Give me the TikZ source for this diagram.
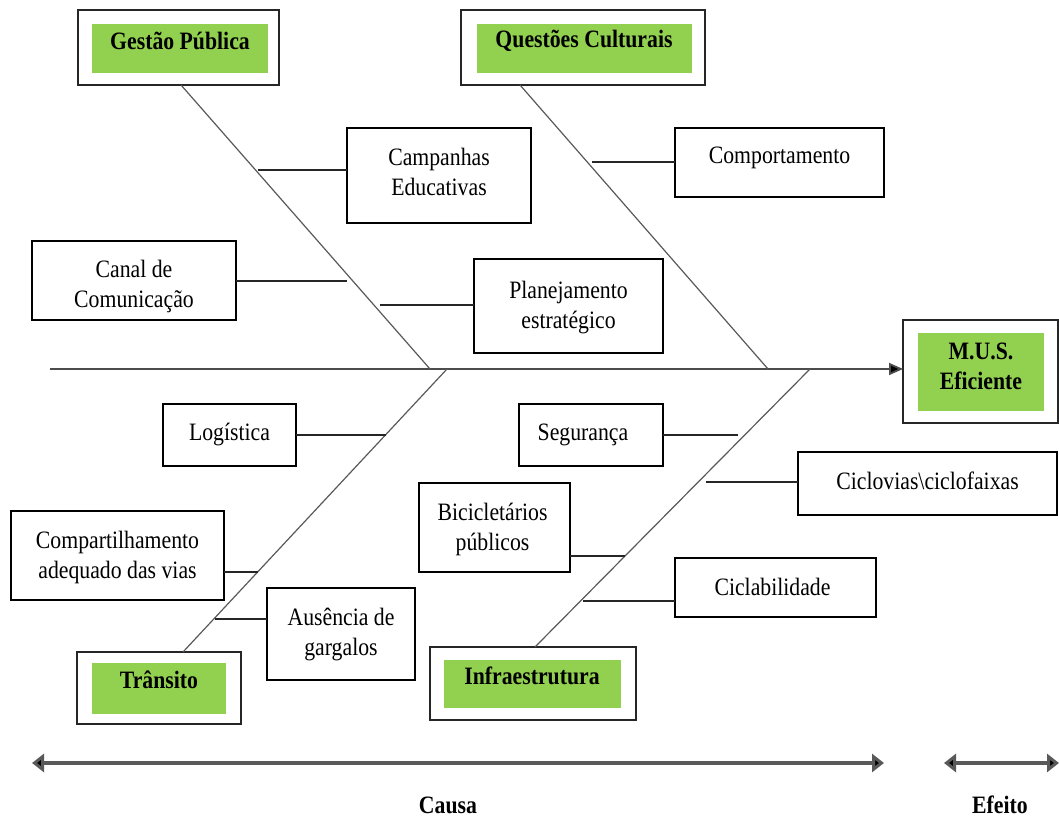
\documentclass[tikz,border=0pt]{standalone}
\usepackage{fontspec}
\setmainfont{Liberation Serif}[FakeStretch=0.87]
\usetikzlibrary{arrows.meta,calc}
\definecolor{lgreen}{HTML}{92D050}
\newcommand{\fsz}{\fontsize{12.5}{15}\selectfont}
\begin{document}
\begin{tikzpicture}[x=0.5pt,y=-0.5pt,
  box/.style={draw=black, line width=0.6pt, inner sep=0pt, outer sep=0pt},
  txt/.style={align=center, font=\fsz, inner sep=0pt},
  catouter/.style={draw=black!85, line width=0.8pt, inner sep=0pt, outer sep=0pt},
  catinner/.style={fill=lgreen, draw=none, inner sep=0pt, outer sep=0pt},
  cattext/.style={font=\fsz\bfseries, align=center, inner sep=0pt},
  bone/.style={draw=black!65, line width=0.6pt},
  branch/.style={draw=black!85, line width=0.6pt},
  spine/.style={draw=black!70, line width=0.9pt},
  scalearrow/.style={draw=black!65, line width=1.6pt, {Triangle[length=6pt,width=9pt,fill=black]}-{Triangle[length=6pt,width=9pt,fill=black]}},
  bottomlabel/.style={font=\fsz\bfseries, inner sep=0pt}
]
\useasboundingbox (0,0) rectangle (1059,817);

% category boxes
\node[catouter, minimum width=100.5pt, minimum height=37.5pt] (gpO) at (178.5,47.5) {};
\node[catinner, minimum width=88pt, minimum height=24.5pt] (gpI) at (180,48.5) {};
\node[cattext] (gpT) at (180,41) {Gestão Pública};

\node[catouter, minimum width=122pt, minimum height=37.5pt] (qcO) at (583,47.5) {};
\node[catinner, minimum width=107.5pt, minimum height=24.5pt] (qcI) at (584.5,48.5) {};
\node[cattext] (qcT) at (584,41) {Questões Culturais};

\node[catouter, minimum width=77.5pt, minimum height=51.5pt] (musO) at (980.5,371.5) {};
\node[catinner, minimum width=63pt, minimum height=39pt] (musI) at (981,372) {};
\node[cattext] (musT) at (981,366) {M.U.S.\\Eficiente};

\node[catouter, minimum width=82pt, minimum height=36pt] (trO) at (159,688) {};
\node[catinner, minimum width=67pt, minimum height=25.5pt] (trI) at (159,688.5) {};
\node[cattext] (trT) at (159,680) {Trânsito};

\node[catouter, minimum width=103pt, minimum height=36.5pt] (inO) at (533,683.5) {};
\node[catinner, minimum width=88.5pt, minimum height=24pt] (inI) at (532.5,684) {};
\node[cattext] (inT) at (532,676) {Infraestrutura};

% cause boxes
\node[box, minimum width=92pt, minimum height=47.5pt] (camp) at (439,175.5) {};
\node[txt] (campT) at ($(camp.center)+(0,-4)$) {Campanhas\\Educativas};
\node[box, minimum width=104.5pt, minimum height=34.5pt] (comp) at (779.5,162.5) {};
\node[txt] (compT) at ($(comp.center)+(0,-5)$) {Comportamento};
\node[box, minimum width=102pt, minimum height=39.5pt] (canal) at (134,280.5) {};
\node[txt] (canalT) at ($(canal.center)+(0,6)$) {Canal de\\Comunicação};
\node[box, minimum width=94.5pt, minimum height=47pt] (plan) at (568.5,306) {};
\node[txt] (planT) at ($(plan.center)+(0,1.5)$) {Planejamento\\estratégico};
\node[box, minimum width=66.5pt, minimum height=31pt] (log) at (229.5,435) {};
\node[txt] (logT) at ($(log.center)+(0,0)$) {Logística};
\node[box, minimum width=72pt, minimum height=31pt] (seg) at (591,435) {};
\node[txt] (segT) at ($(seg.center)+(-8,0)$) {Segurança};
\node[box, minimum width=129.5pt, minimum height=31.5pt] (cic) at (927.5,483.5) {};
\node[txt] (cicT) at ($(cic.center)+(0,-3)$) {Ciclovias\textbackslash ciclofaixas};
\node[box, minimum width=75.5pt, minimum height=44.5pt] (bic) at (494.5,527.5) {};
\node[txt] (bicT) at ($(bic.center)+(-2,2)$) {Bicicletários\\públicos};
\node[box, minimum width=106.5pt, minimum height=44.5pt] (cpt) at (117.5,555.5) {};
\node[txt] (cptT) at ($(cpt.center)+(0,2)$) {Compartilhamento\\adequado das vias};
\node[box, minimum width=100.5pt, minimum height=29.5pt] (cab) at (775.5,587.5) {};
\node[txt] (cabT) at ($(cab.center)+(-3,-1)$) {Ciclabilidade};
\node[box, minimum width=74pt, minimum height=46pt] (aus) at (341,634) {};
\node[txt] (ausT) at ($(aus.center)+(0,0)$) {Ausência de\\gargalos};

% spine and bones
\coordinate (sp0) at (50,369);
\coordinate (gE) at (430,369);
\coordinate (qE) at (768,369);
\coordinate (tS) at (447,369);
\coordinate (iS) at (810,369);
\draw[spine, -{Triangle[length=7pt,width=6pt,fill=black]}] (sp0) -- (sp0 -| musO.west);
\draw[bone] (gpO.south -| 181,0) -- (gE);
\draw[bone] (qcO.south -| 520,0) -- (qE);
\draw[bone] (tS) -- (trO.north -| 183,0);
\draw[bone] (iS) -- (inO.north -| 535,0);

% branch points
\coordinate (b1) at (258,170);
\coordinate (b2) at (347,281);
\coordinate (b3) at (380,305);
\coordinate (b4) at (592,162);
\coordinate (b5) at (386,435);
\coordinate (b6) at (258,572);
\coordinate (b7) at (215,619);
\coordinate (b8) at (738,435);
\coordinate (b9) at (706,482);
\coordinate (b10) at (625,556);
\coordinate (b11) at (583,601);

\draw[branch] (b1) -- (b1 -| camp.west);
\draw[branch] (canal.east |- b2) -- (b2);
\draw[branch] (b3) -- (b3 -| plan.west);
\draw[branch] (b4) -- (b4 -| comp.west);
\draw[branch] (log.east |- b5) -- (b5);
\draw[branch] (cpt.east |- b6) -- (b6);
\draw[branch] (b7) -- (b7 -| aus.west);
\draw[branch] (seg.east |- b8) -- (b8);
\draw[branch] (b9) -- (b9 -| cic.west);
\draw[branch] (bic.east |- b10) -- (b10);
\draw[branch] (b11) -- (b11 -| cab.west);

% scale arrows
\coordinate (ca0) at (32,763);
\coordinate (ca1) at (884,763);
\coordinate (ef0) at (944,763);
\coordinate (ef1) at (1059,763);
\draw[scalearrow] (ca0) -- (ca1);
\draw[scalearrow] (ef0) -- (ef1);
\node[bottomlabel] (causa) at (448,805) {Causa};
\node[bottomlabel] (efeito) at (1000,805) {Efeito};
\end{tikzpicture}
\end{document}
